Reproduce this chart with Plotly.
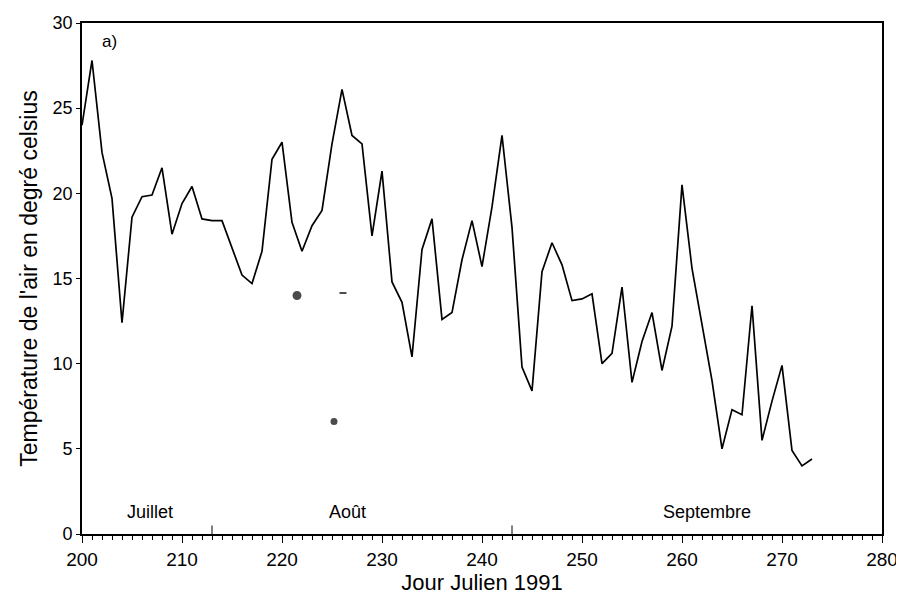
import plotly.graph_objects as go

days = list(range(200, 274))
temperature = [
    24.0, 27.8, 22.4, 19.7, 12.4, 18.6, 19.8, 19.9, 21.5, 17.6,
    19.4, 20.4, 18.5, 18.4, 18.4, 16.8, 15.2, 14.7, 16.6, 22.0,
    23.0, 18.3, 16.6, 18.1, 19.0, 22.9, 26.1, 23.4, 22.9, 17.5,
    21.3, 14.8, 13.6, 10.4, 16.7, 18.5, 12.6, 13.0, 16.1, 18.4,
    15.7, 19.2, 23.4, 18.0, 9.8, 8.4, 15.4, 17.1, 15.8, 13.7,
    13.8, 14.1, 10.0, 10.6, 14.5, 8.9, 11.3, 13.0, 9.6, 12.2,
    20.5, 15.6, 12.3, 9.0, 5.0, 7.3, 7.0, 13.4, 5.5, 7.8,
    9.9, 4.9, 4.0, 4.4,
]

# stray dots visible in the scanned figure
spot_x = [221.5, 226.1, 225.2]
spot_y = [14.0, 14.15, 6.6]

month_names = ["Juillet", "Août", "Septembre"]
month_label_x = [206.8, 226.5, 262.5]
month_label_y = [1.3, 1.3, 1.3]
month_bounds = [213, 243]

x_ticks = list(range(200, 281, 10))
y_ticks = list(range(0, 31, 5))

font_family = "Liberation Sans, Arial, sans-serif"

fig = go.Figure()
fig.add_trace(go.Scatter(
    x=days, y=temperature, mode="lines",
    line=dict(color="black", width=1.7),
    showlegend=False, hoverinfo="x+y",
))
fig.add_trace(go.Scatter(
    x=spot_x, y=spot_y, mode="markers",
    marker=dict(color="black", size=[7, 5, 5], symbol=["circle", "line-ew-open", "circle"],
                line=dict(color="black", width=2)),
    showlegend=False, hoverinfo="skip",
))

for name, mx, my in zip(month_names, month_label_x, month_label_y):
    fig.add_annotation(x=mx, y=my, text=name, showarrow=False,
                       font=dict(size=18, color="black", family=font_family),
                       xanchor="center", yanchor="middle")

for b in month_bounds:
    fig.add_shape(type="line", xref="x", yref="y", x0=b, x1=b, y0=0, y1=0.5,
                  line=dict(color="black", width=1))

fig.add_annotation(x=201.8, y=28.9, text="a)", showarrow=False,
                   font=dict(size=17, color="black", family=font_family),
                   xanchor="left", yanchor="middle")

fig.update_layout(
    width=904, height=593,
    margin=dict(l=74, r=30, t=15, b=67, autoexpand=False),
    paper_bgcolor="white", plot_bgcolor="white",
    font=dict(family=font_family, color="black"),
)
fig.update_xaxes(
    range=[200, 280], tickvals=x_ticks, ticks="outside", ticklen=7,
    tickcolor="black", tickwidth=1,
    minor=dict(dtick=1, ticks="outside", ticklen=4, tickcolor="black"),
    showline=True, linecolor="black", linewidth=1.8, mirror=True,
    showgrid=False, zeroline=False,
    tickfont=dict(size=19),
    title=dict(text="Jour Julien 1991", font=dict(size=22), standoff=0),
    automargin=False,
)
fig.update_yaxes(
    range=[0, 30], tickvals=y_ticks, ticks="outside", ticklen=4,
    tickcolor="black", tickwidth=1,
    showline=True, linecolor="black", linewidth=1.8, mirror=True,
    showgrid=False, zeroline=False,
    tickfont=dict(size=18),
    title=dict(text="Température de l'air en degré celsius", font=dict(size=23), standoff=8),
    automargin=False,
)

fig.write_html("out.html")
